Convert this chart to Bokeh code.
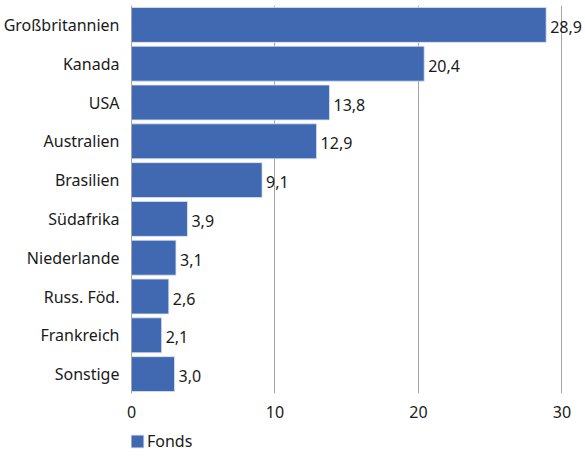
from bokeh.plotting import figure
from bokeh.layouts import column
from bokeh.models import ColumnDataSource, Range1d, FactorRange, Legend, LegendItem, FixedTicker
from bokeh.embed import file_html
from bokeh.resources import INLINE
from bokeh.core.properties import value

categories = ["Großbritannien", "Kanada", "USA", "Australien", "Brasilien",
              "Südafrika", "Niederlande", "Russ. Föd.", "Frankreich", "Sonstige"]
values = [28.9, 20.4, 13.8, 12.9, 9.1, 3.9, 3.1, 2.6, 2.1, 3.0]
series_name = "Fonds"
x_ticks = [0, 10, 20, 30]

FONT = "Noto Sans"
FS = "16px"
BAR = "#4169B2"
TXT = "#1a1a1a"

labels = [f"{v:.1f}".replace(".", ",") for v in values]
src = ColumnDataSource(dict(cat=categories, val=values, lab=labels))

p = figure(width=585, height=426, output_backend="svg", toolbar_location=None,
           y_range=FactorRange(factors=list(reversed(categories))),
           x_range=Range1d(0, 31.64),
           min_border_left=131, min_border_right=0, min_border_top=5,
           min_border_bottom=33, frame_width=454, frame_height=388)
p.outline_line_color = None
p.background_fill_color = "white"
p.border_fill_color = "white"

r = p.hbar(y="cat", right="val", left=0, height=0.9, source=src,
           fill_color=BAR, line_color="#DCE3F0", line_width=0.8)

p.text(x="val", y="cat", text="lab", source=src, x_offset=4, y_offset=2,
       text_baseline="middle", text_align="left",
       text_font=value(FONT), text_font_size=FS, text_color=TXT)

p.xaxis.ticker = FixedTicker(ticks=x_ticks)
p.xaxis.axis_line_color = None
p.xaxis.major_tick_line_color = None
p.xaxis.minor_tick_line_color = None
p.xaxis.major_label_text_font = FONT
p.xaxis.major_label_text_font_size = FS
p.xaxis.major_label_text_color = TXT
p.xaxis.major_label_standoff = 6

p.yaxis.axis_line_color = "#A6A6A6"
p.yaxis.major_tick_line_color = None
p.yaxis.minor_tick_line_color = None
p.yaxis.major_label_text_font = FONT
p.yaxis.major_label_text_font_size = FS
p.yaxis.major_label_text_color = TXT
p.yaxis.major_label_standoff = 6

p.xgrid.ticker = FixedTicker(ticks=[10, 20, 30])
p.xgrid.grid_line_color = "#A6A6A6"
p.ygrid.grid_line_color = None

# legend strip below the chart (its frame aligns with the chart frame)
leg = figure(width=585, height=30, output_backend="svg", toolbar_location=None,
             x_range=Range1d(0, 1), y_range=Range1d(0, 1),
             min_border_left=0, min_border_right=0, min_border_top=0,
             min_border_bottom=0)
leg.outline_line_color = None
leg.axis.visible = False
leg.grid.visible = False
proxy = ColumnDataSource(dict(y=[-5.0], right=[0.0]))  # off-screen legend proxy
lr = leg.hbar(y="y", right="right", left=0, height=0.1, source=proxy,
              fill_color=BAR, line_color="#DCE3F0", line_width=0.8)
legend = Legend(items=[LegendItem(label=series_name, renderers=[lr])],
                location=(-2, 4), orientation="horizontal",
                border_line_color=None, background_fill_alpha=0,
                label_text_font=FONT, label_text_font_size=FS,
                label_text_color=TXT, label_height=16,
                glyph_width=16, glyph_height=16, label_standoff=2,
                padding=0, margin=0, spacing=0)
leg.add_layout(legend, "center")

layout = column(p, leg, spacing=0)
open("out.html", "w").write(file_html(layout, INLINE))
